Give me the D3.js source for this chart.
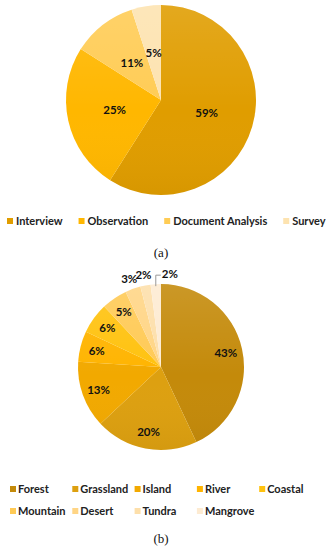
<!DOCTYPE html>
<html>
<head>
<meta charset="utf-8">
<script src="https://cdn.jsdelivr.net/npm/d3@7"></script>
<style>
  body { margin: 0; background: #fff; }
  svg { display: block; }
</style>
</head>
<body>
<svg id="chart" width="328" height="550"></svg>
<script>
// (a) data collection methods
const methodNames = ["Interview", "Observation", "Document Analysis", "Survey"];
const methodValues = [59, 25, 11, 5];
const methodColors = ["#E09D00", "#FFB700", "#FFCC55", "#FDE3B0"];

// (b) study environments
const habitatNames = ["Forest", "Grassland", "Island", "River", "Coastal",
                      "Mountain", "Desert", "Tundra", "Mangrove"];
const habitatValues = [43, 20, 13, 6, 6, 5, 3, 2, 2];
const habitatColors = ["#C48A0A", "#DDA010", "#F2A900", "#FFB400", "#FFC20E",
                       "#FFCA55", "#FFD585", "#FDDFAA", "#FDEBD2"];

const svg = d3.select("#chart");
const legendFont = "Lato, 'Open Sans', sans-serif";

// soft top-to-bottom shading like the original
const defs = svg.append("defs");
const shade = defs.append("linearGradient")
    .attr("id", "shade")
    .attr("x1", 0).attr("y1", 0).attr("x2", 0).attr("y2", 1);
shade.append("stop").attr("offset", "0%").attr("stop-color", "#fff").attr("stop-opacity", 0.12);
shade.append("stop").attr("offset", "55%").attr("stop-color", "#fff").attr("stop-opacity", 0);
shade.append("stop").attr("offset", "100%").attr("stop-color", "#000").attr("stop-opacity", 0.04);

function drawPie(cx, cy, r, names, values, colors, labelFactor) {
    const g = svg.append("g").attr("transform", `translate(${cx},${cy})`);
    const pie = d3.pie().sort(null).value(d => d)(values);
    const arc = d3.arc().innerRadius(0).outerRadius(r);
    const color = d3.scaleOrdinal().domain(names).range(colors);

    g.selectAll("path.slice")
        .data(pie)
        .join("path")
        .attr("class", "slice")
        .attr("d", arc)
        .attr("fill", (d, i) => color(names[i]));

    g.append("circle")
        .attr("r", r)
        .attr("fill", "url(#shade)");

    const inner = d3.arc().innerRadius(r * labelFactor).outerRadius(r * labelFactor);
    const outer = d3.arc().innerRadius(r * 1.13).outerRadius(r * 1.13);

    pie.forEach((d, i) => {
        const small = d.value < 4;
        const last = i === pie.length - 1 && small;
        let [x, y] = small ? outer.centroid(d) : inner.centroid(d);
        if (last) {
            // leader line for the thin last slice
            const a = (d.startAngle + d.endAngle) / 2;
            const x0 = Math.sin(a) * r, y0 = -Math.cos(a) * r;
            const yTop = y0 - 9;
            g.append("path")
                .attr("d", `M${x0},${y0 + 2}V${yTop}H${x0 + 5}`)
                .attr("fill", "none")
                .attr("stroke", "#999")
                .attr("stroke-width", 1);
            x = x0 + 14;
            y = yTop - 1;
        }
        g.append("text")
            .attr("x", x)
            .attr("y", y)
            .attr("text-anchor", "middle")
            .attr("dy", "0.35em")
            .style("font-family", legendFont)
            .style("font-weight", "bold")
            .style("font-size", "11.5px")
            .style("fill", "#111")
            .text(d.value + "%");
    });
}

function drawLegendFlow(y, names, colors, startX, gap) {
    const g = svg.append("g");
    let x = startX;
    names.forEach((n, i) => {
        g.append("rect")
            .attr("x", x).attr("y", y - 3)
            .attr("width", 6).attr("height", 6)
            .attr("fill", colors[i]);
        const t = g.append("text")
            .attr("x", x + 9).attr("y", y)
            .attr("dy", "0.35em")
            .style("font-family", legendFont)
            .style("font-weight", "bold")
            .style("font-size", "11px")
            .style("fill", "#222")
            .text(n);
        x += 9 + t.node().getComputedTextLength() + gap;
    });
}

function drawLegendGrid(y0, names, colors, perRow) {
    const col = d3.scaleLinear().domain([0, perRow]).range([10, 10 + 62.3 * perRow]);
    const g = svg.append("g");
    names.forEach((n, i) => {
        const x = col(i % perRow);
        const y = y0 + Math.floor(i / perRow) * 22;
        g.append("rect")
            .attr("x", x).attr("y", y - 3)
            .attr("width", 6).attr("height", 6)
            .attr("fill", colors[i]);
        g.append("text")
            .attr("x", x + 8).attr("y", y)
            .attr("dy", "0.35em")
            .style("font-family", legendFont)
            .style("font-weight", "bold")
            .style("font-size", "11px")
            .style("fill", "#222")
            .text(n);
    });
}

function caption(y, s) {
    svg.append("text")
        .attr("x", 161).attr("y", y)
        .attr("text-anchor", "middle")
        .attr("dy", "0.35em")
        .style("font-family", "'Liberation Serif', 'DejaVu Serif', serif")
        .style("font-size", "13px")
        .style("fill", "#111")
        .text(s);
}

drawPie(161, 100, 95, methodNames, methodValues, methodColors, 0.5);
drawLegendFlow(221, methodNames, methodColors, 7, 16);
caption(252, "(a)");

drawPie(161, 367, 83, habitatNames, habitatValues, habitatColors, 0.8);
drawLegendGrid(489, habitatNames, habitatColors, 5);
caption(538, "(b)");
</script>
</body>
</html>
